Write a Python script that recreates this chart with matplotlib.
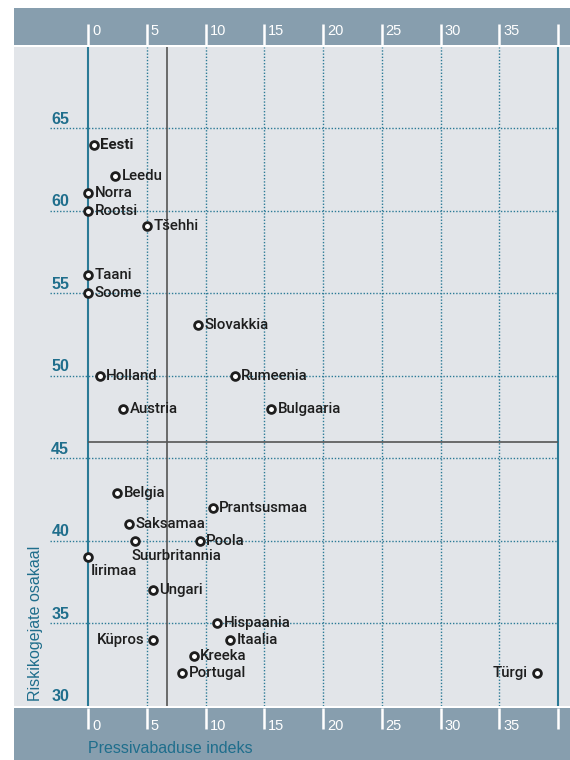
import matplotlib
matplotlib.use('Agg')
import matplotlib.pyplot as plt
from matplotlib import font_manager as fm

# ---------------- data ----------------
countries = ['Eesti', 'Leedu', 'Norra', 'Rootsi', 'Tšehhi', 'Taani', 'Soome',
             'Slovakkia', 'Holland', 'Rumeenia', 'Austria', 'Bulgaaria',
             'Belgia', 'Prantsusmaa', 'Saksamaa', 'Suurbritannia', 'Poola',
             'Iirimaa', 'Ungari', 'Hispaania', 'Küpros', 'Itaalia', 'Kreeka',
             'Portugal', 'Türgi']
press = [0.5, 2.3, 0.0, 0.0, 5.0, 0.0, 0.0,
         9.4, 1.0, 12.5, 3.0, 15.6,
         2.5, 10.6, 3.5, 4.0, 9.5,
         0.0, 5.5, 11.0, 5.5, 12.1, 9.0,
         8.0, 38.2]
risk = [64.0, 62.1, 61.1, 60.0, 59.1, 56.1, 55.0,
        53.1, 50.0, 50.0, 48.0, 48.0,
        42.9, 42.0, 41.0, 40.0, 40.0,
        39.0, 37.0, 35.0, 34.0, 34.0, 33.0,
        32.0, 32.0]
x_ticks = [0, 5, 10, 15, 20, 25, 30, 35]
x_tick_labels = ['0', '5', '10', '15', '20', '25', '30', '35']
y_ticks = [30, 35, 40, 45, 50, 55, 60, 65]
y_tick_labels = ['30', '35', '40', '45', '50', '55', '60', '65']
mean_press = 6.75
mean_risk = 46.0
x_title = 'Pressivabaduse indeks'
y_title = 'Riskikogejate osakaal'

# ---------------- style ----------------
BG = '#e2e5e9'
BAND = '#879eae'
TEAL = '#2b7a96'
TEAL_TXT = '#1f6e8c'
GRAY = '#555555'
INK = '#1e1e1e'
SANS = ['Liberation Sans', 'DejaVu Sans']

_names = {f.name for f in fm.fontManager.ttflist}
if 'Roboto' in _names:
    LABEL_FAM, LABEL_SIZE, LABEL_W = ['Roboto', 'DejaVu Sans'], 10.8, 'medium'
else:
    LABEL_FAM, LABEL_SIZE, LABEL_W = SANS, 10.5, 'normal'

# label placement (offset in points, horizontal alignment)
special = {
    'Suurbritannia': ((-2.2, -11.0), 'left'),
    'Iirimaa': ((2.2, -9.8), 'left'),
    'Küpros': ((-5.5, 0), 'right'),
    'Türgi': ((-7.0, 0), 'right'),
}

W, H = 570, 760
fig = plt.figure(figsize=(W / 100, H / 100), dpi=100)
fig.patch.set_facecolor('white')


def frac(x0, y0, x1, y1):
    return [x0 / W, 1 - y1 / H, (x1 - x0) / W, (y1 - y0) / H]


XL = (-6.34, 41.02)
XMAX = 40
YL = (29.98, 69.92)

ax = fig.add_axes(frac(13.5, 47, 570, 706))
ax.set_xlim(XL)
ax.set_ylim(YL)
ax.set_facecolor(BG)
for s in ax.spines.values():
    s.set_visible(False)
ax.set_xticks([])
ax.set_yticks([])

dots = (0, (1.0, 1.3))
# vertical dotted gridlines
for t in x_ticks[1:]:
    ax.vlines(t, YL[0], YL[1], colors=TEAL, linestyles=dots, lw=1.0, zorder=1)
# horizontal dotted gridlines
for t in y_ticks[1:]:
    ax.hlines(t, -3.23, XMAX, colors=TEAL, linestyles=dots, lw=1.0, zorder=1)
# solid axis lines
ax.vlines([0, XMAX], YL[0], YL[1], colors=TEAL, lw=1.5, zorder=2)
# mean lines
ax.vlines(mean_press, YL[0], YL[1], colors=GRAY, lw=1.2, zorder=2)
ax.hlines(mean_risk, 0, XMAX, colors=GRAY, lw=1.2, zorder=2)

# y tick labels
for t, lab in zip(y_ticks, y_tick_labels):
    ax.text(-1.6, t + 0.28, lab, ha='right', va='baseline', fontsize=11.5,
            fontweight='bold', color=TEAL_TXT, family=SANS)

ax.text(-4.5, 30.3, y_title, rotation=90, ha='center', va='bottom',
        fontsize=11.5, color=TEAL_TXT, family=SANS)

# points
ax.plot(press, risk, linestyle='none', marker='o', ms=5.6, mfc='white',
        mec=INK, mew=2.0, zorder=5)

for name, x, y in zip(countries, press, risk):
    off, ha = special.get(name, ((4.6, 0), 'left'))
    ax.annotate(name, (x, y), xytext=off, textcoords='offset points',
                ha=ha, va='center', fontsize=LABEL_SIZE, color=INK,
                family=LABEL_FAM,
                fontweight='bold' if name == 'Eesti' else LABEL_W, zorder=6)

# top band
top = fig.add_axes(frac(13.5, 8, 570, 45))
top.set_xlim(XL)
top.set_ylim(0, 1)
top.set_facecolor(BAND)
for s in top.spines.values():
    s.set_visible(False)
top.set_xticks([])
top.set_yticks([])
for t in x_ticks + [XMAX]:
    top.vlines(t, 0, 21 / 37, colors='white', lw=1.8)
for t, lab in zip(x_ticks, x_tick_labels):
    top.text(t + 0.33, 10 / 37, lab, ha='left', va='baseline', fontsize=10.5,
             color='white', family=SANS)

# bottom band
bot = fig.add_axes(frac(13.5, 708, 570, 760))
bot.set_xlim(XL)
bot.set_ylim(0, 1)
bot.set_facecolor(BAND)
for s in bot.spines.values():
    s.set_visible(False)
bot.set_xticks([])
bot.set_yticks([])
for t in x_ticks + [XMAX]:
    bot.vlines(t, (760 - 729) / 52, 1, colors='white', lw=1.8)
for t, lab in zip(x_ticks, x_tick_labels):
    bot.text(t + 0.33, (760 - 730) / 52, lab, ha='left', va='baseline',
             fontsize=10.5, color='white', family=SANS)
bot.text(0, (760 - 753) / 52, x_title, ha='left', va='baseline',
         fontsize=11.5, color=TEAL_TXT, family=SANS)

fig.savefig('out.png', dpi=100)
